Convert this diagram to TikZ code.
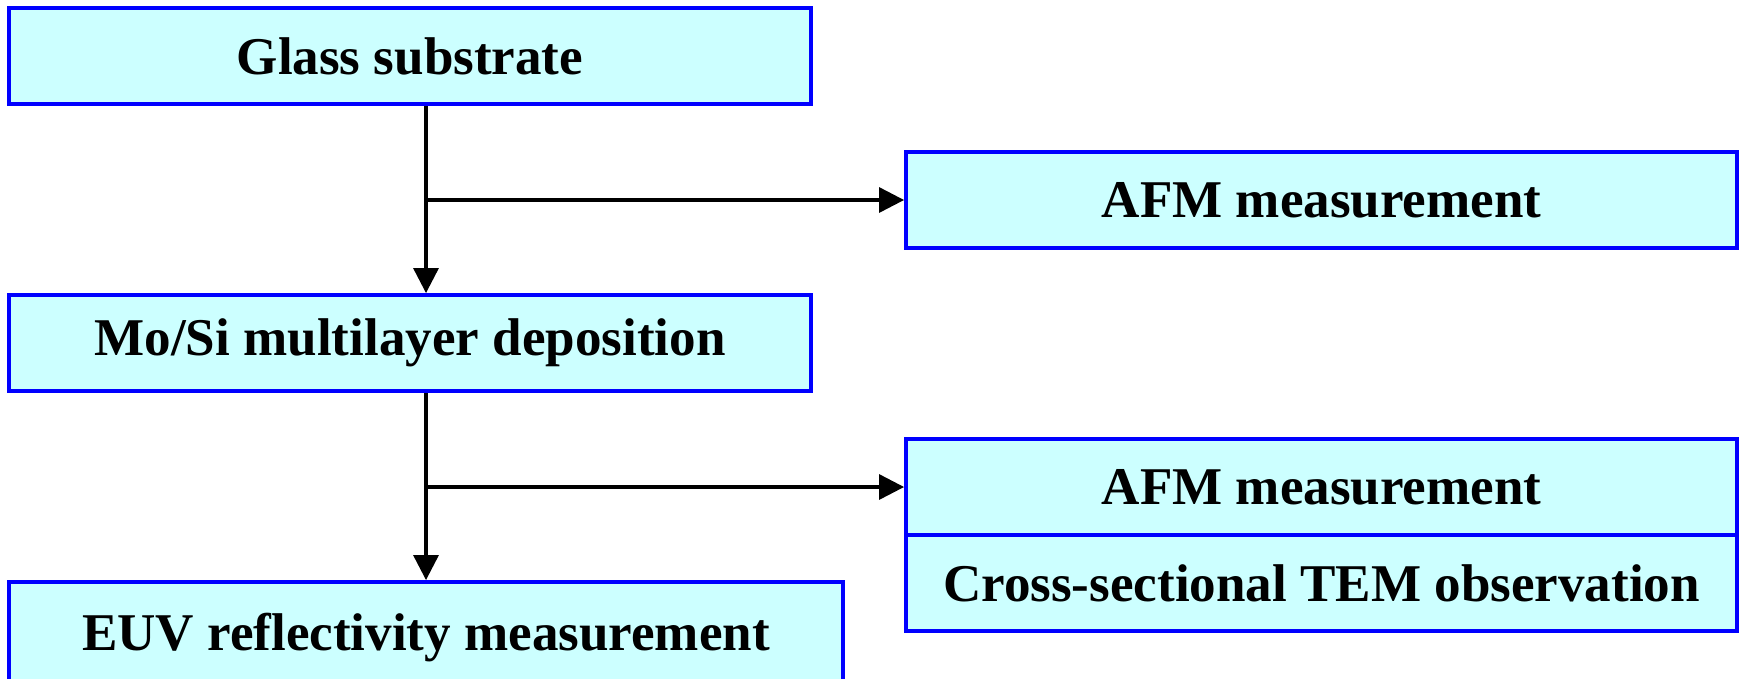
\documentclass[tikz,border=0pt]{standalone}
\usepackage{fontspec}
\setmainfont{Liberation Serif}
\usetikzlibrary{arrows.meta}

\definecolor{boxfill}{HTML}{CCFFFF}
\definecolor{boxline}{HTML}{0000FF}

\begin{document}
\begin{tikzpicture}[
    stepbox/.style={draw=boxline, fill=boxfill, line width=1.1pt, minimum height=0.96cm,
      inner sep=0pt, font=\fontsize{15.1}{18}\selectfont\bfseries},
    flow/.style={line width=0.9pt, -{Triangle[length=0.25cm,width=0.25cm]}}
  ]
  % Page size = picture size
  \useasboundingbox (0,0) rectangle (17.39,-6.78);
  \clip (0,0) rectangle (17.39,-6.78);

  % Process steps (left column)
  \node[stepbox, minimum width=8.02cm] (glass) at (4.10,-0.56) {Glass substrate};
  \node[stepbox, minimum width=8.02cm] (mosi) at (4.10,-3.43) {Mo/Si multilayer deposition};
  \node[stepbox, minimum width=8.34cm, minimum height=1.12cm] (euv) at (4.26,-6.38) {EUV reflectivity measurement};

  % Measurements (right column)
  \node[stepbox, minimum width=8.31cm] (afmA) at (13.215,-2.00) {AFM measurement};
  \node[stepbox, minimum width=8.31cm] (afmB) at (13.215,-4.87) {AFM measurement};
  \node[stepbox, minimum width=8.31cm] (tem) at (13.215,-5.83) {Cross-sectional TEM observation};

  % Branch points on the main line
  \coordinate (j1) at (4.26,-2.00);
  \coordinate (j2) at (4.26,-4.87);

  % Main flow
  \draw[flow] (glass.south -| j1) -- (mosi.north -| j1);
  \draw[flow] (mosi.south -| j2) -- (euv.north -| j2);

  % Side branches
  \draw[flow] (j1) -- (afmA.west);
  \draw[flow] (j2) -- (afmB.west);

\end{tikzpicture}
\end{document}
